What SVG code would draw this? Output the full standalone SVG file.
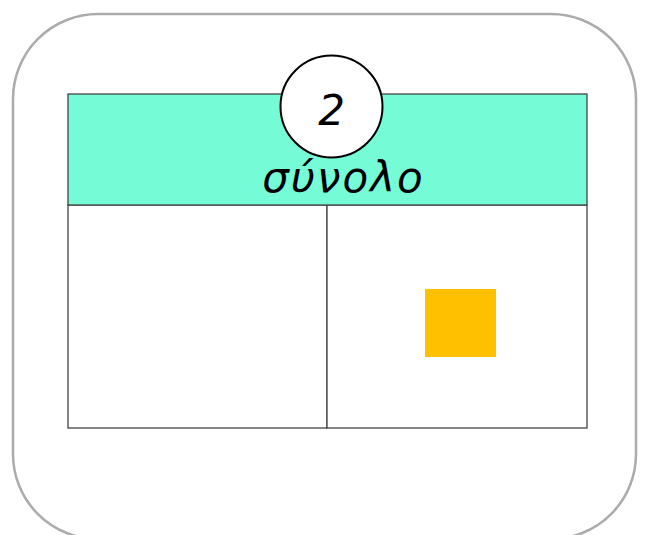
<svg xmlns="http://www.w3.org/2000/svg" width="645" height="535" viewBox="0 0 645 535">
<style>
.frame{fill:#fff;stroke:#ababab;stroke-width:2.5}
.cell{fill:#fff;stroke:#444;stroke-width:1.3}
.txt{font-family:"DejaVu Sans","Noto Sans",sans-serif;font-style:italic;fill:#000}
</style>
<rect width="645" height="535" fill="#fff"/>
<g id="frame"><rect class="frame" x="13" y="14" width="623" height="525" rx="85"/></g>
<g id="table">
<rect class="cell" x="68" y="205" width="259" height="223"/>
<rect class="cell" x="327" y="205" width="260" height="223"/>
<rect x="68" y="94" width="519" height="111" fill="#75fcd7" stroke="#444" stroke-width="1.3"/>
<text class="txt" x="343.5" y="192" font-size="42" letter-spacing="2" text-anchor="middle">σύνολο</text>
</g>
<g id="badge">
<circle cx="331.5" cy="106.5" r="51" fill="#fff" stroke="#000" stroke-width="2"/>
<text class="txt" x="331.5" y="125" font-size="42" text-anchor="middle">2</text>
</g>
<g id="square"><rect x="425" y="289" width="71" height="68" fill="#ffc000"/></g>
</svg>
